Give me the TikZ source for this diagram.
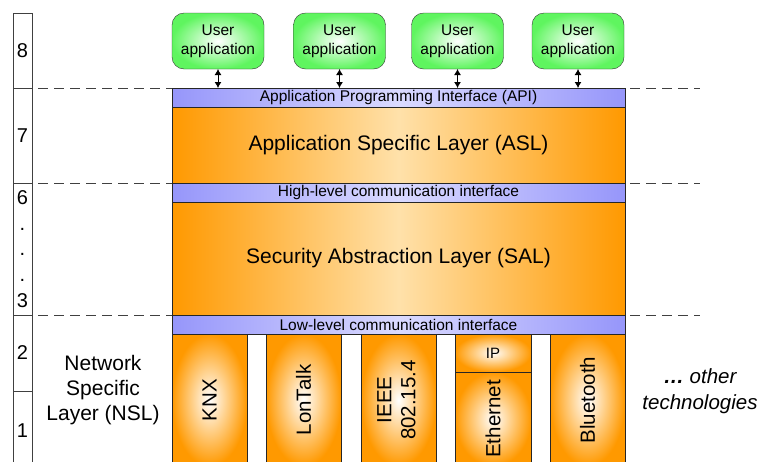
\documentclass[tikz,border=0pt]{standalone}
\usepackage{fontspec}
\setmainfont{Liberation Sans}
\usetikzlibrary{positioning,arrows.meta}

\definecolor{orgdark}{RGB}{255,153,0}
\definecolor{orglight}{RGB}{255,225,170}
\definecolor{ifdark}{RGB}{150,150,250}
\definecolor{iflight}{RGB}{218,218,255}
\definecolor{appgreen}{RGB}{95,245,95}

\tikzset{
  layer/.style={draw=black!85, inner sep=0pt, outer sep=0pt, minimum width=453pt,
    left color=orgdark, right color=orgdark, middle color=orglight,
    font=\fontsize{21}{25}\selectfont},
  iface/.style={draw=black!85, inner sep=0pt, outer sep=0pt, minimum width=453pt,
    minimum height=19pt, left color=ifdark, right color=ifdark, middle color=iflight,
    font=\fontsize{15.5}{17}\selectfont},
  tech/.style={draw=black!85, inner sep=0pt, outer sep=0pt, minimum width=75pt,
    inner color=white, outer color=orgdark, align=center,
    font=\fontsize{20.5}{24}\selectfont},
  app/.style={draw=black!80, rounded corners=12pt, inner color=white, outer color=appgreen,
    minimum width=92pt, minimum height=56pt, align=center, inner sep=0pt, outer sep=0pt,
    font=\fontsize{15.5}{19}\selectfont},
  osi/.style={draw=black!75, minimum width=19pt, inner sep=0pt, outer sep=0pt,
    align=center, font=\fontsize{20}{25.7}\selectfont},
  sep/.style={black!75, dash pattern=on 10pt off 6pt}
}

\begin{document}
\begin{tikzpicture}[>={Latex[length=6pt,width=7pt]}, x=1pt, y=-1pt]
\useasboundingbox (0,0) rectangle (763,461);

% layer numbers
\node[osi, minimum height=75pt]  (osi8)  at (22.5,50.5) {8};
\node[osi, minimum height=95pt]  (osi7)  at (22.5,135.5) {7};
\node[osi, minimum height=132pt] (osi63) at (22.5,249) {6\\.\\.\\.\\3};
\node[osi, minimum height=76pt]  (osi2)  at (22.5,353) {2};
\node[osi, minimum height=79pt]  (osi1)  at (22.5,430.5) {1};

% layer borders
\coordinate (d1a) at (38,88);  \coordinate (d1b) at (700,88);
\coordinate (d2a) at (38,183); \coordinate (d2b) at (700,183);
\coordinate (d3a) at (38,315); \coordinate (d3b) at (700,315);
\draw[sep] (d1a) -- (d1b);
\draw[sep] (d2a) -- (d2b);
\draw[sep] (d3a) -- (d3b);

% stack
\node[iface] (api) at (398.5,97.5) {Application Programming Interface (API)};
\node[layer, minimum height=76pt, below=0pt of api] (asl) {Application Specific Layer (ASL)};
\node[iface, below=0pt of asl] (hli) {High-level communication interface};
\node[layer, minimum height=113pt, below=0pt of hli] (sal) {Security Abstraction Layer (SAL)};
\node[iface, below=0pt of sal] (lli) {Low-level communication interface};

% network technologies
\node[tech, minimum height=132pt] (knx) at (209.5,400) {\rotatebox{90}{KNX}};
\node[tech, minimum height=132pt] (lon) at (303.5,400) {\rotatebox{90}{LonTalk}};
\node[tech, minimum height=132pt] (ieee) at (398.5,400) {\rotatebox{90}{\begin{tabular}{@{}c@{}}IEEE\\802.15.4\end{tabular}}};
\node[tech, minimum width=76pt, minimum height=38pt, font=\fontsize{15}{17}\selectfont] (ip) at (493,353) {IP};
\node[tech, minimum width=76pt, minimum height=94pt] (eth) at (493,419) {\rotatebox{90}{Ethernet}};
\node[tech, minimum height=132pt] (bt) at (587.5,400) {\rotatebox{90}{Bluetooth}};

\node[align=center, font=\fontsize{21}{25}\selectfont] (nsl) at (103,390) {Network\\Specific\\Layer (NSL)};
\node[align=center, font=\fontsize{20.5}{26}\selectfont\itshape] (other) at (700,391) {\textbf{…} other\\technologies};

% user applications
\node[app] (app1) at (218,41) {User\\application};
\node[app] (app2) at (339.5,41) {User\\application};
\node[app] (app3) at (457.5,41) {User\\application};
\node[app] (app4) at (578,41) {User\\application};
\draw[<->, line width=0.9pt] (app1) to (app1 |- api.north);
\draw[<->, line width=0.9pt] (app2) to (app2 |- api.north);
\draw[<->, line width=0.9pt] (app3) to (app3 |- api.north);
\draw[<->, line width=0.9pt] (app4) to (app4 |- api.north);
\end{tikzpicture}
\end{document}
